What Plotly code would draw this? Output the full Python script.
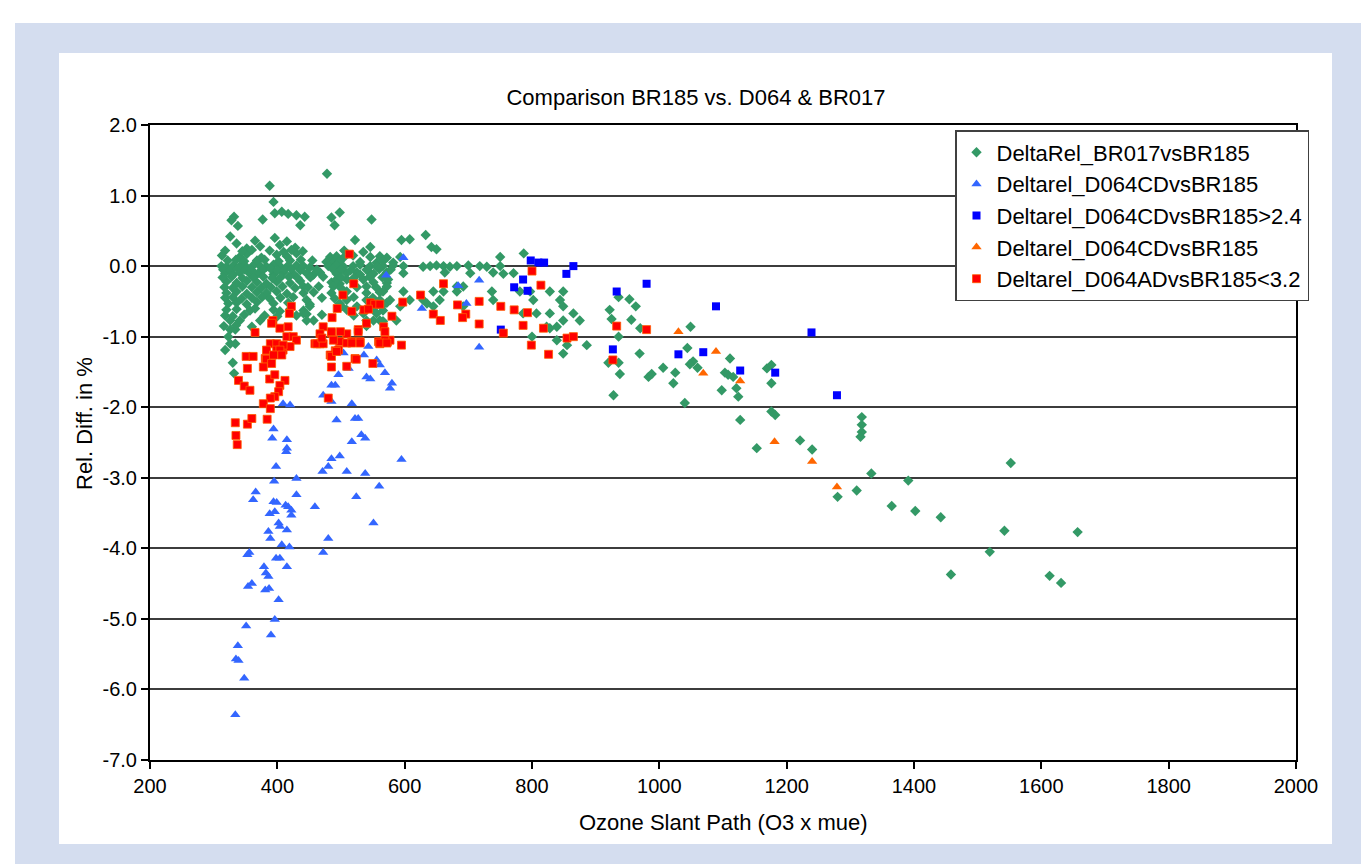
import plotly.graph_objects as go

# ---------------- data ----------------
green_x = [478, 388, 394, 332, 328, 338, 377, 396, 407, 417, 430, 443, 436, 485, 498, 490, 548,
           326, 336, 352, 365, 373, 396, 404, 415, 428, 522, 546, 595, 608, 633, 642, 650,
           313, 341, 352, 375, 399, 415, 430, 483, 493, 504, 519, 546, 561, 572, 593, 750, 787,
           477, 488, 498, 530, 556, 566, 582,
           312, 320, 331, 341, 352, 362, 373, 383, 394, 404, 415, 430, 441, 451, 480, 493, 504, 519,
           530, 546, 556, 566, 582, 598, 629, 640, 650, 661, 671, 682, 700, 718, 729, 750,
           318, 331, 341, 357, 370, 394, 409, 425, 446, 457, 467, 493, 509, 525, 530, 546, 551, 572,
           598, 663, 703, 739, 755, 771,
           320, 336, 352, 368, 383, 399, 420, 436, 485, 498, 519, 551, 572, 493, 509, 535, 574, 441,
           488, 540, 572, 682, 692,
           320, 336, 352, 368, 383, 399, 415, 441, 457, 485, 509, 540, 561, 566, 598, 645, 661, 682,
           737, 781, 797, 828, 849,
           323, 336, 352, 368, 394, 417, 451, 498, 572, 635, 446, 509, 540, 561, 577, 608, 629, 655,
           739, 802, 844,
           320, 336, 357, 365, 394, 404, 420, 441, 509, 551, 566, 451, 501, 525, 564, 593, 645, 692, 849,
           441, 446, 535, 556, 786, 807, 828, 865,
           326, 341, 373, 446, 457, 551, 561, 540, 566, 587, 849, 875,
           823, 828, 839, 326, 334, 800, 839, 326, 334, 855, 886, 318, 849, 323, 330, 332,
           936, 953, 963, 922, 925, 956, 970, 1049, 936, 1044, 969, 1053, 1048, 1060, 1111, 920, 936,
           938, 1006, 1025, 1022, 983, 988, 1103, 1116, 1108, 1121, 1124, 1169, 1176, 1176, 1098, 928,
           1040, 1176, 1182, 1127, 1318,
           1318, 1318, 1316, 1153, 1221, 1240, 1280, 1310, 1333, 1365, 1391, 1402, 1442, 1458, 1519,
           1542, 1552, 1613, 1631, 1657,
           318, 345, 360, 388, 410, 422, 440, 505, 535,
           322, 335, 348, 368, 380, 402, 420, 437, 455,
           315, 326, 338, 349, 360, 378, 390, 400, 412, 422, 436, 462, 487, 500, 515, 540, 560, 578,
           314, 328, 345, 362, 378, 392, 405, 418, 432, 452, 472, 500, 520, 545, 565,
           317, 330, 345, 360, 375, 390, 408, 428, 448, 465, 500, 525, 555,
           318, 330, 344, 360, 376, 388, 405, 425, 470, 490, 520, 550,
           318, 330, 348, 380, 400, 430, 470, 520,
           316, 335, 360, 540]
green_y = [1.31, 1.14, 0.91, 0.70, 0.65, 0.57, 0.66, 0.75, 0.77, 0.74, 0.72, 0.70, 0.58, 0.69, 0.76, 0.58, 0.66,
           0.42, 0.32, 0.25, 0.36, 0.28, 0.40, 0.30, 0.35, 0.26, 0.37, 0.27, 0.37, 0.38, 0.44, 0.27, 0.24,
           0.15, 0.13, 0.17, 0.12, 0.16, 0.14, 0.18, 0.13, 0.14, 0.12, 0.15, 0.13, 0.14, 0.12, 0.13, 0.13, 0.18,
           0.06, 0.05, 0.07, 0.06, 0.05, 0.07, 0.05,
           0.00, -0.01, 0.01, 0.00, -0.02, 0.01, 0.00, -0.01, 0.02, 0.00, -0.01, 0.01, 0.00, -0.02, 0.00, 0.01, -0.01, 0.00,
           0.02, 0.00, -0.01, 0.00, 0.01, 0.00, -0.01, 0.00, 0.01, 0.00, -0.01, 0.00, 0.01, 0.00, -0.01, 0.00,
           -0.10, -0.12, -0.09, -0.11, -0.10, -0.12, -0.09, -0.11, -0.10, -0.12, -0.09, -0.11, -0.10, -0.09, -0.12, -0.10, -0.11, -0.09,
           -0.10, -0.09, -0.10, -0.09, -0.11, -0.10,
           -0.22, -0.24, -0.21, -0.23, -0.25, -0.22, -0.24, -0.21, -0.23, -0.25, -0.22, -0.23, -0.24, -0.19, -0.19, -0.19, -0.19, -0.29,
           -0.29, -0.29, -0.29, -0.29, -0.29,
           -0.38, -0.36, -0.39, -0.37, -0.38, -0.36, -0.39, -0.38, -0.37, -0.38, -0.36, -0.38, -0.37, -0.36, -0.36, -0.36, -0.36, -0.36,
           -0.36, -0.36, -0.36, -0.36, -0.36,
           -0.53, -0.52, -0.54, -0.51, -0.53, -0.52, -0.54, -0.53, -0.52, -0.53, -0.48, -0.48, -0.48, -0.48, -0.48, -0.48, -0.48, -0.48,
           -0.48, -0.48, -0.48,
           -0.62, -0.61, -0.63, -0.60, -0.62, -0.64, -0.61, -0.63, -0.62, -0.60, -0.63, -0.57, -0.57, -0.57, -0.57, -0.57, -0.57, -0.57, -0.57,
           -0.67, -0.68, -0.67, -0.67, -0.67, -0.67, -0.67, -0.67,
           -0.77, -0.77, -0.77, -0.77, -0.77, -0.77, -0.77, -0.77, -0.78, -0.77, -0.77, -0.77,
           -0.86, -0.88, -0.86, -0.90, -0.90, -1.00, -1.05, -1.10, -1.10, -1.12, -1.12, -1.19, -1.24, -1.00, -1.37, -1.52,
           -0.44, -0.47, -0.57, -0.62, -0.75, -0.76, -0.88, -0.86, -1.00, -1.16, -1.24, -1.35, -1.39, -1.44, -1.31, -1.37, -1.37,
           -1.53, -1.44, -1.51, -1.66, -1.57, -1.53, -1.51, -1.57, -1.54, -1.73, -1.85, -1.45, -1.40, -1.66, -1.76, -1.83,
           -1.94, -2.06, -2.11, -2.18, -2.14,
           -2.25, -2.35, -2.42, -2.58, -2.47, -2.60, -3.27, -3.18, -2.94, -3.40, -3.04, -3.47, -3.56, -4.37, -4.05,
           -3.75, -2.79, -4.39, -4.49, -3.77,
           0.22, 0.21, 0.23, 0.22, 0.20, 0.23, 0.21, 0.22, 0.20,
           0.08, 0.09, 0.07, 0.08, 0.09, 0.07, 0.08, 0.09, 0.08,
           -0.05, -0.06, -0.04, -0.05, -0.06, -0.05, -0.04, -0.06, -0.05, -0.04, -0.06, -0.05, -0.04, -0.05, -0.06, -0.05, -0.04, -0.05,
           -0.16, -0.15, -0.17, -0.16, -0.15, -0.17, -0.16, -0.15, -0.17, -0.16, -0.15, -0.16, -0.17, -0.15, -0.16,
           -0.30, -0.31, -0.29, -0.30, -0.31, -0.30, -0.29, -0.31, -0.30, -0.29, -0.31, -0.30, -0.30,
           -0.45, -0.44, -0.46, -0.45, -0.44, -0.46, -0.45, -0.44, -0.45, -0.46, -0.44, -0.45,
           -0.70, -0.71, -0.69, -0.70, -0.71, -0.70, -0.69, -0.70,
           -0.85, -0.84, -0.86, -0.85]

tri_x = [598, 571, 684, 717, 697, 627, 717, 543, 536, 556, 561, 569, 580, 577, 540, 546, 504, 512, 496, 485,
         491, 472, 485, 409, 420, 517, 493, 522, 527, 394, 392, 415, 415, 414, 532, 538, 517, 595, 498, 485,
         480, 471, 509, 538, 398, 395, 430, 560, 366, 362, 430, 524, 459, 394, 399, 413, 422, 417, 388, 396,
         422, 551, 402, 404, 415, 386, 389, 480, 407, 419, 472, 356, 353, 398, 404, 415, 379, 382, 386, 360,
         354, 381, 387, 402, 396, 351, 390, 338, 335, 339, 348, 334]
tri_y = [0.12, -0.13, -0.28, -0.20, -0.53, -0.60, -1.15, -1.14, -1.26, -1.33, -1.40, -1.51, -1.66, -1.73, -1.57, -1.60, -1.23, -1.45, -1.54, -1.69,
         -1.69, -1.83, -1.92, -1.95, -1.97, -1.95, -2.18, -2.16, -2.16, -2.31, -2.44, -2.46, -2.58, -2.63, -2.39, -2.44, -2.49, -2.74, -2.69, -2.73,
         -2.84, -2.91, -2.91, -2.94, -2.84, -3.05, -3.01, -3.12, -3.20, -3.31, -3.24, -3.27, -3.41, -3.34, -3.35, -3.39, -3.46, -3.41, -3.51, -3.48,
         -3.53, -3.64, -3.64, -3.69, -3.74, -3.76, -3.86, -3.86, -3.95, -3.98, -4.06, -4.06, -4.09, -4.14, -4.14, -4.26, -4.26, -4.35, -4.40, -4.50,
         -4.54, -4.59, -4.57, -4.73, -5.01, -5.10, -5.23, -5.38, -5.57, -5.59, -5.84, -6.36]

bsq_x = [798, 810, 819, 865, 854, 786, 772, 793, 933, 980, 1089, 1239, 751, 927, 1030, 1069, 1127, 1182, 1279]
bsq_y = [0.08, 0.05, 0.05, 0.00, -0.11, -0.19, -0.30, -0.35, -0.36, -0.25, -0.57, -0.94, -0.90, -1.18, -1.25, -1.22, -1.48, -1.51, -1.83]

otri_x = [1030, 1089, 1069, 1127, 1181, 1240, 1279]
otri_y = [-0.93, -1.21, -1.52, -1.63, -2.49, -2.77, -3.13]

red_x = [513, 520, 503, 494, 517, 486, 546, 553, 561, 536, 543, 580, 540, 527, 567, 472, 467, 459, 467, 485,
         509, 498, 517, 530, 559, 573, 577, 595, 491, 522, 625, 597, 661, 645, 656, 683, 696, 691, 717, 717,
         751, 772, 786, 793, 800, 814, 818, 799, 855, 865, 826, 755, 933, 980, 927,
         422, 419, 393, 391, 365, 404, 417, 415, 425, 430, 389, 399, 383, 399, 409, 420, 351, 362, 381, 462,
         472, 488, 509, 496, 483, 569, 561,
         409, 404, 383, 394, 407, 391, 378, 353, 388, 396, 412, 404, 339, 348, 357, 402, 396, 389, 378, 389,
         334, 353, 360, 384, 335, 337, 480, 470, 485, 485, 485, 493, 509, 517, 530, 524, 550, 561, 572, 569,
         527, 499]
red_y = [0.17, -0.25, -0.41, -0.60, -0.64, -0.73, -0.52, -0.54, -0.54, -0.62, -0.61, -0.71, -0.81, -0.90, -0.86, -0.86, -0.96, -1.10, -1.10, -0.95,
         -0.96, -1.07, -1.07, -1.07, -1.07, -1.07, -1.05, -1.12, -1.20, -1.31, -0.41, -0.51, -0.25, -0.68, -0.77, -0.55, -0.68, -0.73, -0.50, -0.82,
         -0.57, -0.62, -0.84, -0.66, -0.07, -0.27, -0.88, -1.12, -1.02, -1.00, -1.25, -0.95, -0.85, -0.90, -1.33,
         -0.57, -0.67, -0.77, -0.81, -0.94, -0.88, -0.86, -1.00, -1.00, -1.05, -1.10, -1.10, -1.19, -1.19, -1.19, -1.14, -1.28, -1.28, -1.31, -1.10,
         -1.10, -1.05, -1.09, -1.19, -1.26, -1.05, -1.10,
         -1.12, -1.19, -1.32, -1.26, -1.26, -1.38, -1.43, -1.45, -1.60, -1.54, -1.62, -1.69, -1.62, -1.70, -1.76, -1.78, -1.85, -1.87, -1.95, -2.02,
         -2.22, -2.24, -2.16, -2.17, -2.40, -2.53, -1.87, -1.02, -0.93, -1.28, -1.43, -1.21, -1.42, -1.09, -1.09, -1.32, -1.38, -1.09, -1.09, -0.93,
         -0.93, -0.93]

series_names = ["DeltaRel_BR017vsBR185", "Deltarel_D064CDvsBR185", "Deltarel_D064CDvsBR185>2.4",
                "Deltarel_D064CDvsBR185", "Deltarel_D064ADvsBR185<3.2"]
x_ticks = [200, 400, 600, 800, 1000, 1200, 1400, 1600, 1800, 2000]
y_ticks = [2.0, 1.0, 0.0, -1.0, -2.0, -3.0, -4.0, -5.0, -6.0, -7.0]

# ---------------- figure ----------------
FONT = "Liberation Sans, Arial, sans-serif"
fig = go.Figure()

specs = [
    (green_x, green_y, "diamond", 8, "#339966", None),
    (tri_x, tri_y, "triangle-up", 9, "#3366ff", None),
    (bsq_x, bsq_y, "square", 8, "#0000ff", None),
    (otri_x, otri_y, "triangle-up", 9, "#ff6600", None),
    (red_x, red_y, "square", 8, "#ff0000", "#ff5a00"),
]
for i, (xs, ys, sym, sz, col, lc) in enumerate(specs):
    fig.add_trace(go.Scatter(
        x=xs, y=ys, mode="markers", name=series_names[i], legendgroup=f"g{i}",
        marker=dict(symbol=sym, size=sz, color=col,
                    line=dict(width=0.8 if lc else 0, color=lc if lc else col)),
        hoverinfo="x+y+name",
    ))

L, R, T, B = 150, 1296, 125, 760
W, H = 1361, 864
pw, ph = R - L, B - T

def px(xp):
    return (xp - L) / pw

def py(yp):
    return (B - yp) / ph

fig.update_layout(
    width=W, height=H,
    margin=dict(l=L, r=W - R, t=T, b=H - B, pad=0),
    paper_bgcolor="white", plot_bgcolor="white",
    font=dict(family=FONT, color="black", size=20),
    showlegend=True,
    title=dict(text="Comparison BR185 vs. D064 & BR017", x=696 / W, xref="container",
               xanchor="center", y=1 - 97 / H, yref="container", yanchor="middle",
               font=dict(family=FONT, size=22, color="black")),
    legend=dict(x=px(955), y=py(130), xanchor="left", yanchor="top",
                bgcolor="white", bordercolor="#404040", borderwidth=1.5,
                font=dict(family=FONT, size=22, color="black"),
                tracegroupgap=0, itemsizing="trace"),
    xaxis=dict(range=[200, 2000], tickvals=x_ticks, ticktext=[str(v) for v in x_ticks],
               showgrid=False, zeroline=False, showline=True, linecolor="black", linewidth=2,
               mirror=True, ticks="outside", ticklen=7, tickwidth=1.5, tickcolor="black",
               tickfont=dict(family=FONT, size=20, color="black")),
    yaxis=dict(range=[-7, 2], tickvals=y_ticks, ticktext=[f"{v:.1f}" for v in y_ticks],
               showgrid=True, gridcolor="#3c3c3c", gridwidth=1.5, zeroline=False,
               showline=True, linecolor="black", linewidth=2, mirror=True,
               ticks="outside", ticklen=7, tickwidth=1.5, tickcolor="black",
               tickfont=dict(family=FONT, size=20, color="black")),
    shapes=[
        dict(type="rect", xref="paper", yref="paper", x0=px(15), x1=px(1361), y0=py(864), y1=py(23),
             fillcolor="#d4ddef", line=dict(width=0), layer="below"),
        dict(type="rect", xref="paper", yref="paper", x0=px(59), x1=px(1332), y0=py(844), y1=py(53),
             fillcolor="white", line=dict(width=0), layer="below"),
    ],
    annotations=[
        dict(text="Ozone Slant Path (O3 x mue)", xref="paper", yref="paper", x=px(723), y=py(822),
             xanchor="center", yanchor="middle", showarrow=False,
             font=dict(family=FONT, size=22, color="black")),
        dict(text="Rel. Diff. in %", xref="paper", yref="paper", x=px(84), y=py(424),
             xanchor="center", yanchor="middle", showarrow=False, textangle=-90,
             font=dict(family=FONT, size=22, color="black")),
    ],
)

fig.write_html("out.html", config={"displayModeBar": False},
               post_script="document.body.style.margin='0px';document.body.style.overflow='hidden';")
